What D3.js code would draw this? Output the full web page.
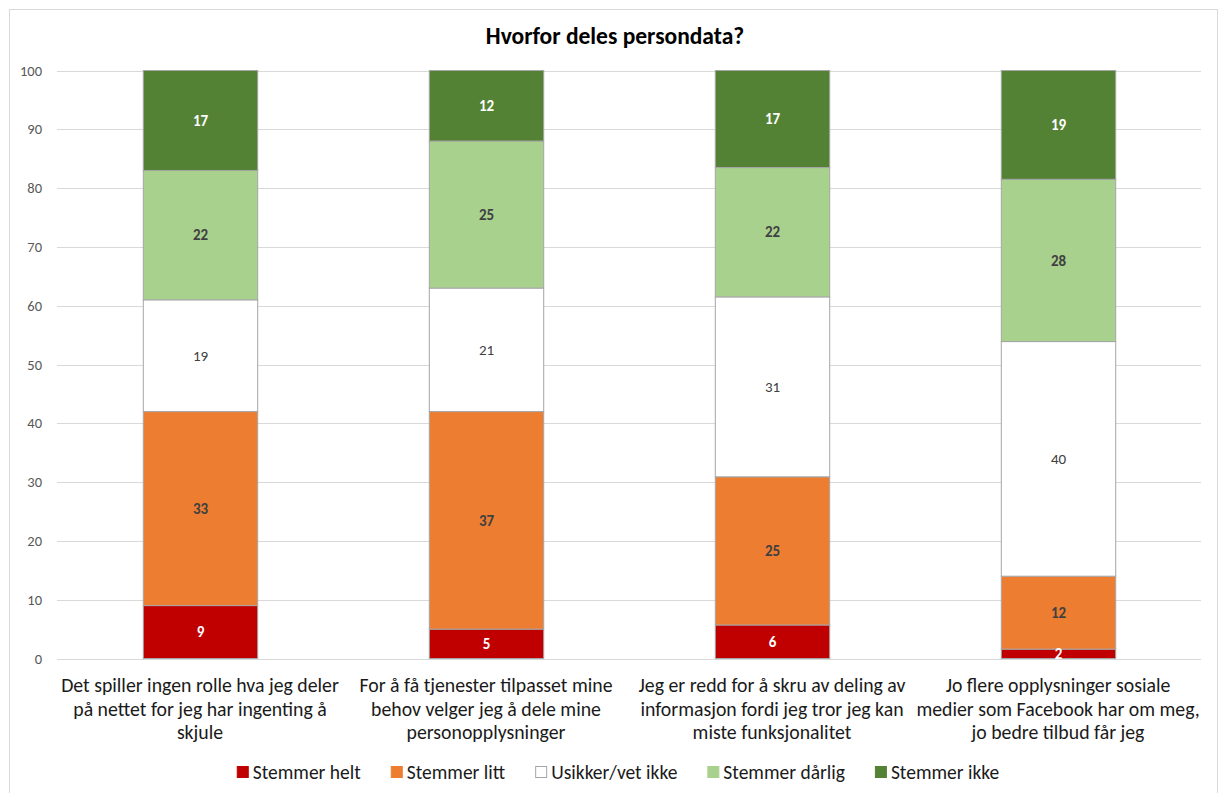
<!DOCTYPE html>
<html><head><meta charset="utf-8">
<script src="https://cdn.jsdelivr.net/npm/d3@7"></script>
<style>
html,body{margin:0;padding:0;background:#fff;}
svg{display:block;font-family:Carlito, Lato, "Open Sans", sans-serif;}
</style></head>
<body><svg id="chart" width="1221" height="793"></svg>
<script>
// ---- data ----
const title = "Hvorfor deles persondata?";
const categories = [
  ["Det spiller ingen rolle hva jeg deler", "på nettet for jeg har ingenting å", "skjule"],
  ["For å få tjenester tilpasset mine", "behov velger jeg å dele mine", "personopplysninger"],
  ["Jeg er redd for å skru av deling av", "informasjon fordi jeg tror jeg kan", "miste funksjonalitet"],
  ["Jo flere opplysninger sosiale", "medier som Facebook har om meg,", "jo bedre tilbud får jeg"]
];
const seriesNames = ["Stemmer helt", "Stemmer litt", "Usikker/vet ikke", "Stemmer dårlig", "Stemmer ikke"];
const stemmerHelt    = [9, 5, 5.7, 1.6];
const stemmerLitt    = [33, 37, 25.2, 12.4];
const usikker        = [19, 21, 30.6, 39.9];
const stemmerDarlig  = [22, 25, 22.0, 27.6];
const stemmerIkke    = [17, 12, 16.5, 18.5];
const yTicks = [0, 10, 20, 30, 40, 50, 60, 70, 80, 90, 100];

const colors = ["#C00000", "#ED7D31", "#FFFFFF", "#A9D18E", "#548235"];
const labelColors = ["#FFFFFF", "#404040", "#404040", "#404040", "#FFFFFF"];
const labelWeights = ["bold", "bold", "normal", "bold", "bold"];

const seriesValues = [stemmerHelt, stemmerLitt, usikker, stemmerDarlig, stemmerIkke];
const table = categories.map((c, i) => {
  const row = {cat: i};
  seriesNames.forEach((s, j) => row[s] = seriesValues[j][i]);
  return row;
});

// ---- layout ----
const svg = d3.select("#chart");
const plot = {left: 57, right: 1201, top: 70.5, bottom: 658.5};

svg.append("rect").attr("x", 9.5).attr("y", 9.5).attr("width", 1208).attr("height", 800)
  .attr("fill", "#fff").attr("stroke", "#d9d9d9");

const x = d3.scaleBand().domain(d3.range(categories.length))
  .range([plot.left, plot.right]).paddingInner(0.6).paddingOuter(0.3);
const y = d3.scaleLinear().domain([0, 100]).range([plot.bottom, plot.top]);

// gridlines
svg.append("g").selectAll("line").data(yTicks).join("line")
  .attr("x1", plot.left).attr("x2", plot.right)
  .attr("y1", d => Math.round(y(d)) + 0.5).attr("y2", d => Math.round(y(d)) + 0.5)
  .attr("stroke", "#d9d9d9").attr("stroke-width", 1);

// y axis
const yAxis = d3.axisLeft(y).tickValues(yTicks).tickSize(0).tickPadding(0);
const ya = svg.append("g").attr("transform", `translate(${42},0)`).call(yAxis);
ya.select(".domain").remove();
ya.selectAll("text").attr("fill", "#595959").style("font-size", "14.5px")
  .style("font-family", "Carlito, Lato, sans-serif");

// title
svg.append("text").attr("x", 615).attr("y", 44).attr("text-anchor", "middle")
  .style("font-size", "23.5px").style("font-weight", "bold").attr("fill", "#000")
  .text(title);

// stacks
const stack = d3.stack().keys(seriesNames);
const stacked = stack(table);
const gBars = svg.append("g");
stacked.forEach((layer, j) => {
  const g = gBars.append("g");
  g.selectAll("rect").data(layer).join("rect")
    .attr("x", (d, i) => x(i) + 0.5)
    .attr("width", x.bandwidth())
    .attr("y", d => y(d[1]))
    .attr("height", d => y(d[0]) - y(d[1]))
    .attr("fill", colors[j]).attr("stroke", "#a6a6a6").attr("stroke-width", 1);
});
stacked.forEach((layer, j) => {
  svg.append("g").selectAll("text").data(layer).join("text")
    .attr("x", (d, i) => x(i) + x.bandwidth() / 2 + 0.5)
    .attr("y", d => (y(d[0]) + y(d[1])) / 2)
    .attr("dy", "0.35em").attr("text-anchor", "middle")
    .style("font-size", "15px").style("font-weight", labelWeights[j])
    .attr("fill", labelColors[j])
    .text(d => Math.round(d[1] - d[0]));
});

// category labels
const catG = svg.append("g");
categories.forEach((lines, i) => {
  const t = catG.append("text").attr("text-anchor", "middle")
    .style("font-size", "19.8px").attr("fill", "#1a1a1a");
  lines.forEach((ln, k) => {
    t.append("tspan").attr("x", x(i) + x.bandwidth() / 2).attr("y", 692 + k * 23.5).text(ln);
  });
});

// legend
const legend = svg.append("g");
const items = seriesNames.map((s, j) => {
  const g = legend.append("g");
  g.append("rect").attr("x", 0.5).attr("y", -12.5).attr("width", 11).attr("height", 11)
    .attr("fill", colors[j]).attr("stroke", j === 2 ? "#a6a6a6" : colors[j]);
  const t = g.append("text").attr("x", 16).attr("y", 0)
    .style("font-size", "19.5px").attr("fill", "#1a1a1a").text(s);
  return {g, w: 16 + t.node().getComputedTextLength()};
});
const gap = 30;
const total = d3.sum(items, d => d.w) + gap * (items.length - 1);
let cx = 618 - total / 2;
items.forEach(it => { it.g.attr("transform", `translate(${cx},779)`); cx += it.w + gap; });
</script></body></html>
